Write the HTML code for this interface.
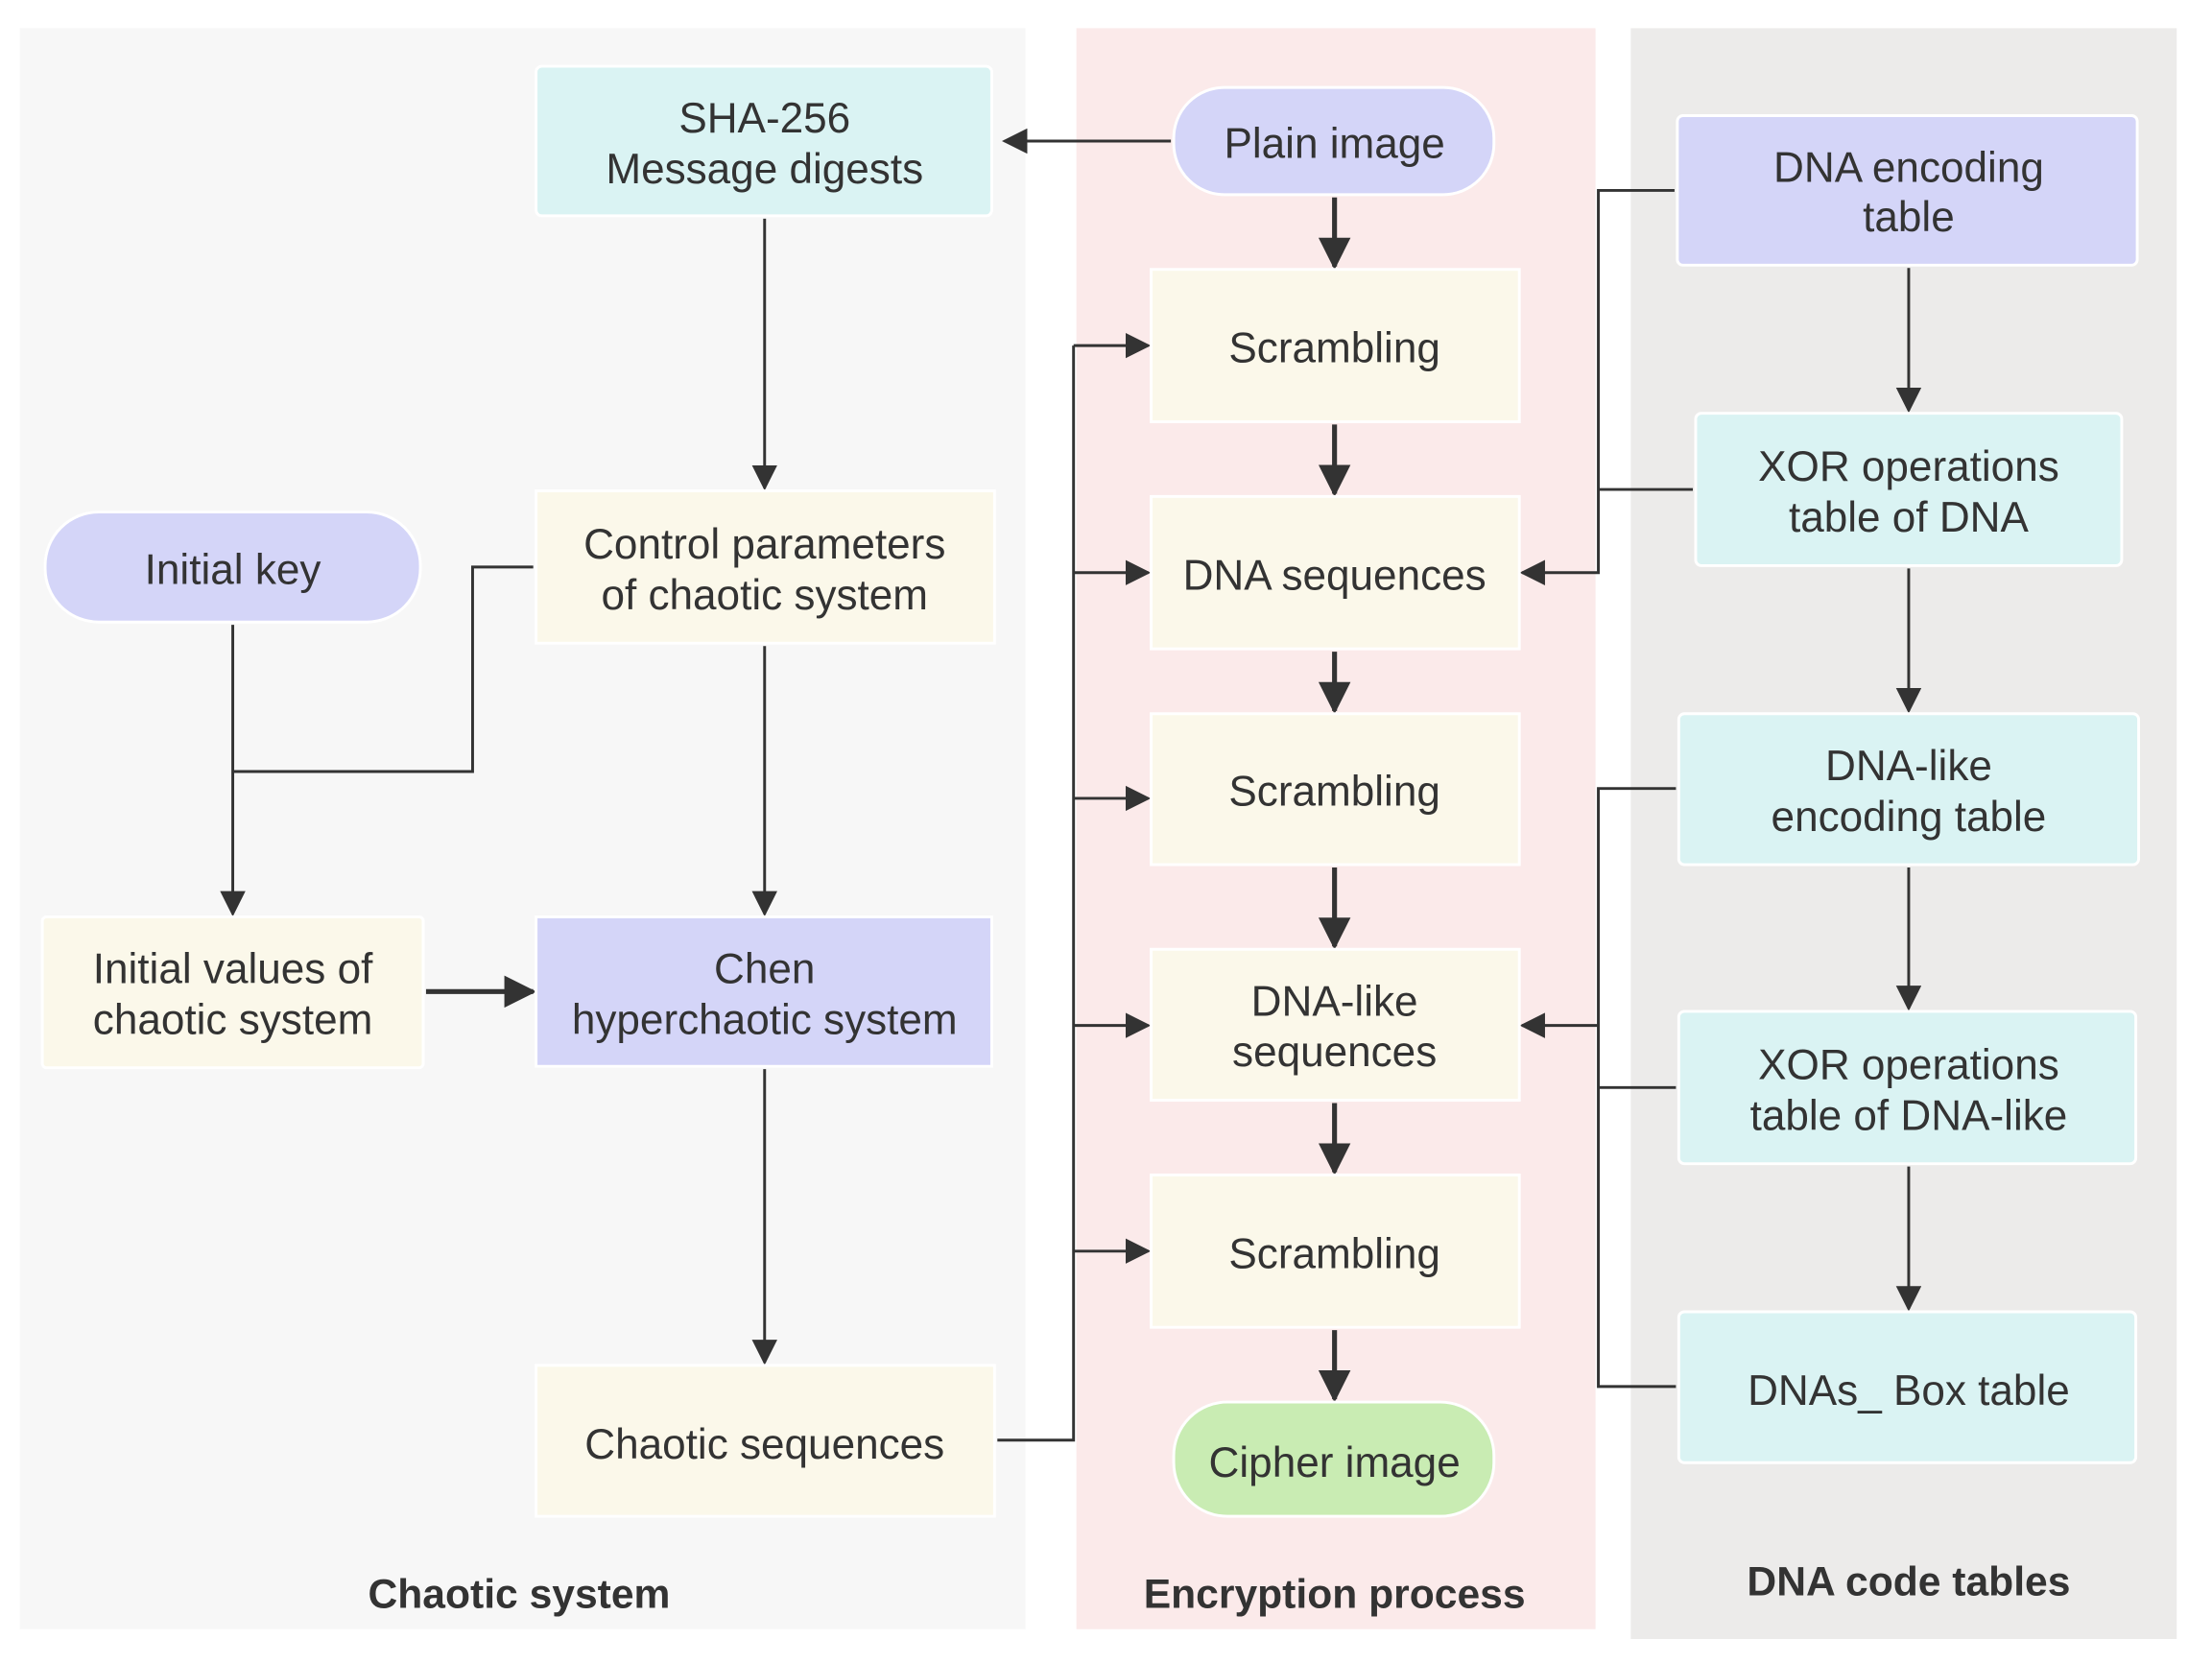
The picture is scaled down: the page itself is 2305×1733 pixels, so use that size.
<!DOCTYPE html>
<html><head><meta charset="utf-8"><style>
html,body{margin:0;padding:0;background:#fff;}
svg{display:block;}
text{font-family:"Liberation Sans",sans-serif;fill:#333;text-anchor:middle;}
.n{font-size:30px;}
.b{font-size:29px;font-weight:bold;}
</style></head><body>
<svg width="2305" height="1733" viewBox="0 0 1568 1179" preserveAspectRatio="none" xmlns="http://www.w3.org/2000/svg">
<defs>
<marker id="at" viewBox="0 0 10 10" refX="9" refY="5" markerWidth="6.5" markerHeight="6.5" orient="auto"><path d="M0,0 L10,5 L0,10 z" fill="#333"/></marker>
<marker id="ab" viewBox="0 0 10 10" refX="9" refY="5" markerWidth="9" markerHeight="9" orient="auto"><path d="M0,0 L10,5 L0,10 z" fill="#333"/></marker>
</defs>
<rect width="1568" height="1179" fill="#fff"/>
<rect x="14" y="20" width="713" height="1135" fill="#f7f7f7"/>
<rect x="763" y="20" width="368" height="1135" fill="#fbeaea"/>
<rect x="1156" y="20" width="387" height="1142" fill="#ecebea"/>

<g stroke="#333" stroke-width="2" fill="none">
<path d="M830,100 H712" marker-end="url(#ab)"/>
<path d="M542,155 V346" marker-end="url(#ab)"/>
<path d="M542,458 V648" marker-end="url(#ab)"/>
<path d="M542,758 V966" marker-end="url(#ab)"/>
<path d="M165,443 V648" marker-end="url(#ab)"/>
<path d="M378,402 H335 V547 H165"/>
<path d="M707,1021 H761 V245"/>
<path d="M761,245 H814" marker-end="url(#ab)"/>
<path d="M761,406 H814" marker-end="url(#ab)"/>
<path d="M761,566 H814" marker-end="url(#ab)"/>
<path d="M761,727 H814" marker-end="url(#ab)"/>
<path d="M761,887 H814" marker-end="url(#ab)"/>
<path d="M1187,135 H1133 V406 H1079" marker-end="url(#ab)"/>
<path d="M1200,347 H1133"/>
<path d="M1188,559 H1133 V983 H1188"/>
<path d="M1188,771 H1133"/>
<path d="M1133,727 H1079" marker-end="url(#ab)"/>
<path d="M1353,190 V291" marker-end="url(#ab)"/>
<path d="M1353,403 V504" marker-end="url(#ab)"/>
<path d="M1353,615 V715" marker-end="url(#ab)"/>
<path d="M1353,827 V928" marker-end="url(#ab)"/>
</g>
<g stroke="#333" stroke-width="3.5" fill="none">
<path d="M946,140 V189" marker-end="url(#at)"/>
<path d="M946,301 V350" marker-end="url(#at)"/>
<path d="M946,462 V504" marker-end="url(#at)"/>
<path d="M946,615 V671" marker-end="url(#at)"/>
<path d="M946,782 V831" marker-end="url(#at)"/>
<path d="M946,943 V992" marker-end="url(#at)"/>
<path d="M302,703 H378" marker-end="url(#at)"/>
</g>

<g stroke="#fff" stroke-width="2">
<rect x="380" y="47" width="323" height="106" rx="4" fill="#daf3f3"/>
<rect x="832" y="62" width="227" height="76" rx="36" fill="#d4d5f8"/>
<rect x="816" y="191" width="261" height="108" fill="#fbf8ea"/>
<rect x="816" y="352" width="261" height="108" fill="#fbf8ea"/>
<rect x="816" y="506" width="261" height="107" fill="#fbf8ea"/>
<rect x="816" y="673" width="261" height="107" fill="#fbf8ea"/>
<rect x="816" y="833" width="261" height="108" fill="#fbf8ea"/>
<rect x="832" y="994" width="227" height="81" rx="38" fill="#c9ecb3"/>
<rect x="380" y="348" width="325" height="108" fill="#fbf8ea"/>
<rect x="32" y="363" width="266" height="78" rx="38" fill="#d4d5f8"/>
<rect x="30" y="650" width="270" height="107" rx="3" fill="#fbf8ea"/>
<rect x="380" y="650" width="323" height="106" fill="#d4d5f8"/>
<rect x="380" y="968" width="325" height="107" fill="#fbf8ea"/>
<rect x="1189" y="82" width="326" height="106" rx="4" fill="#d4d5f8"/>
<rect x="1202" y="293" width="302" height="108" rx="4" fill="#daf3f3"/>
<rect x="1190" y="506" width="326" height="107" rx="4" fill="#daf3f3"/>
<rect x="1190" y="717" width="324" height="108" rx="4" fill="#daf3f3"/>
<rect x="1190" y="930" width="324" height="107" rx="4" fill="#daf3f3"/>
</g>

<text class="n" x="542" y="94">SHA-256</text>
<text class="n" x="542" y="130">Message digests</text>
<text class="n" x="946" y="112">Plain image</text>
<text class="n" x="946" y="257">Scrambling</text>
<text class="n" x="946" y="418">DNA sequences</text>
<text class="n" x="946" y="571">Scrambling</text>
<text class="n" x="946" y="720">DNA-like</text>
<text class="n" x="946" y="756">sequences</text>
<text class="n" x="946" y="899">Scrambling</text>
<text class="n" x="946" y="1047">Cipher image</text>
<text class="n" x="542" y="396">Control parameters</text>
<text class="n" x="542" y="432">of chaotic system</text>
<text class="n" x="165" y="414">Initial key</text>
<text class="n" x="165" y="697">Initial values of</text>
<text class="n" x="165" y="733">chaotic system</text>
<text class="n" x="542" y="697">Chen</text>
<text class="n" x="542" y="733">hyperchaotic system</text>
<text class="n" x="542" y="1034">Chaotic sequences</text>
<text class="n" x="1353" y="129">DNA encoding</text>
<text class="n" x="1353" y="164">table</text>
<text class="n" x="1353" y="341">XOR operations</text>
<text class="n" x="1353" y="377">table of DNA</text>
<text class="n" x="1353" y="553">DNA-like</text>
<text class="n" x="1353" y="589">encoding table</text>
<text class="n" x="1353" y="765">XOR operations</text>
<text class="n" x="1353" y="801">table of DNA-like</text>
<text class="n" x="1353" y="996">DNAs_ Box table</text>
<text class="b" x="368" y="1140">Chaotic system</text>
<text class="b" x="946" y="1140">Encryption process</text>
<text class="b" x="1353" y="1131">DNA code tables</text>
</svg>
</body></html>
